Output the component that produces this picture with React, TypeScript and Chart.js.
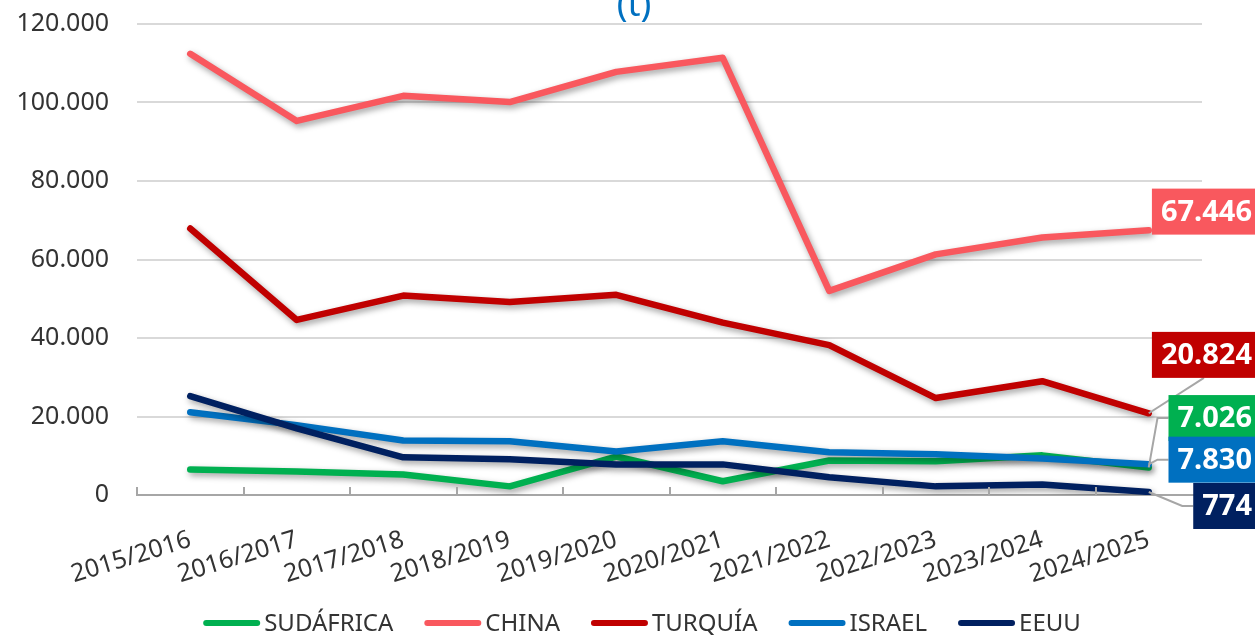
import React, { useEffect, useRef } from "react";
import { Chart, registerables } from "chart.js";

Chart.register(...registerables);

const categories = [
  "2015/2016", "2016/2017", "2017/2018", "2018/2019", "2019/2020",
  "2020/2021", "2021/2022", "2022/2023", "2023/2024", "2024/2025",
];

const sudafrica = [6500, 6000, 5200, 2200, 9800, 3500, 8800, 8600, 10100, 7026];
const china = [112400, 95300, 101700, 100100, 107800, 111400, 52000, 61300, 65600, 67446];
const turquia = [67900, 44600, 50800, 49200, 51000, 43900, 38200, 24700, 29000, 20824];
const israel = [21100, 17800, 13900, 13700, 11100, 13700, 10900, 10400, 9300, 7830];
const eeuu = [25200, 17000, 9600, 9100, 7800, 7800, 4500, 2200, 2700, 774];

const seriesNames = ["SUDÁFRICA", "CHINA", "TURQUÍA", "ISRAEL", "EEUU"];
const seriesColors = ["#00B050", "#F9585E", "#C00000", "#0070C0", "#002060"];
const yTicks = [0, 20000, 40000, 60000, 80000, 100000, 120000];

// label box vertical placement (in y-axis units) for the end-value labels
const labelValuesY = [19600, 72200, 35700, 9000, -2800];
const leaderKinds = ["elbow", "none", "bottom", "elbow", "elbow"];

const FONT = "'Noto Sans', sans-serif";

function fmt(n: number): string {
  return String(n).replace(/\B(?=(\d{3})+(?!\d))/g, ".");
}

const shadowPlugin = {
  id: "shadowPlugin",
  beforeDatasetDraw(chart: any) {
    const ctx = chart.ctx;
    ctx.save();
    ctx.shadowColor = "rgba(0,0,0,0.38)";
    ctx.shadowBlur = 6;
    ctx.shadowOffsetX = 2;
    ctx.shadowOffsetY = 3;
  },
  afterDatasetDraw(chart: any) {
    chart.ctx.restore();
  },
};

const axisTicksPlugin = {
  id: "axisTicksPlugin",
  afterDraw(chart: any) {
    const ctx = chart.ctx;
    const { left, right, bottom } = chart.chartArea;
    const n = categories.length;
    ctx.save();
    ctx.strokeStyle = "#A6A6A6";
    ctx.lineWidth = 2;
    for (let i = 0; i <= n; i++) {
      const x = Math.round(left + ((right - left) * i) / n);
      ctx.beginPath();
      ctx.moveTo(x, bottom - 8);
      ctx.lineTo(x, bottom);
      ctx.stroke();
    }
    ctx.restore();
  },
};

const titlePlugin = {
  id: "titlePlugin",
  afterDraw(chart: any) {
    const ctx = chart.ctx;
    ctx.save();
    ctx.fillStyle = "#0070C0";
    ctx.font = `36px ${FONT}`;
    ctx.textAlign = "center";
    ctx.textBaseline = "alphabetic";
    ctx.fillText("(t)", 634, 16);
    ctx.restore();
  },
};

const endLabelsPlugin = {
  id: "endLabelsPlugin",
  afterDraw(chart: any) {
    const ctx = chart.ctx;
    const yScale = chart.scales.y;
    const W = chart.width;
    const boxH = 46;
    ctx.save();
    ctx.font = `bold 29px ${FONT}`;
    const boxes: any[] = [];
    chart.data.datasets.forEach((ds: any, i: number) => {
      const meta = chart.getDatasetMeta(i);
      const last = meta.data[meta.data.length - 1];
      const value = ds.data[ds.data.length - 1];
      const text = fmt(value);
      const tw = ctx.measureText(text).width;
      const textRight = W - 3;
      const boxLeft = textRight - tw - 9;
      const cy = yScale.getPixelForValue(labelValuesY[i]);
      boxes.push({ i, text, boxLeft, cy, px: last.x, py: last.y, color: ds.borderColor });
    });
    ctx.strokeStyle = "#A6A6A6";
    ctx.lineWidth = 2;
    boxes.forEach((b) => {
      const kind = leaderKinds[b.i];
      if (kind === "none") return;
      ctx.beginPath();
      ctx.moveTo(b.px, b.py);
      if (kind === "bottom") {
        ctx.lineTo(b.boxLeft + 52, b.cy + boxH / 2);
      } else {
        ctx.lineTo(b.boxLeft - 11, b.cy);
        ctx.lineTo(b.boxLeft, b.cy);
      }
      ctx.stroke();
    });
    const order = [1, 2, 0, 3, 4];
    order.forEach((idx) => {
      const b = boxes[idx];
      ctx.fillStyle = b.color;
      ctx.fillRect(b.boxLeft, b.cy - boxH / 2, W - b.boxLeft + 5, boxH);
      ctx.fillStyle = "#FFFFFF";
      ctx.textAlign = "right";
      ctx.textBaseline = "middle";
      ctx.fillText(b.text, W - 3, b.cy + 1);
    });
    ctx.restore();
  },
};

const legendPlugin = {
  id: "customLegend",
  afterDraw(chart: any) {
    const ctx = chart.ctx;
    ctx.save();
    ctx.font = `24px ${FONT}`;
    const lineW = 57;
    const gap = 4;
    const itemGap = 31;
    const widths = chart.data.datasets.map((ds: any) => ctx.measureText(ds.label).width);
    let total = 0;
    widths.forEach((w: number, i: number) => {
      total += lineW + gap + w + (i < widths.length - 1 ? itemGap : 0);
    });
    let x = 642 - total / 2;
    const y = 623;
    chart.data.datasets.forEach((ds: any, i: number) => {
      ctx.strokeStyle = ds.borderColor;
      ctx.lineWidth = 6;
      ctx.lineCap = "round";
      ctx.beginPath();
      ctx.moveTo(x + 3, y);
      ctx.lineTo(x + lineW - 3, y);
      ctx.stroke();
      ctx.fillStyle = "#333333";
      ctx.textAlign = "left";
      ctx.textBaseline = "middle";
      ctx.fillText(ds.label, x + lineW + gap, y + 1);
      x += lineW + gap + widths[i] + itemGap;
    });
    ctx.restore();
  },
};

export default function App() {
  const canvasRef = useRef<HTMLCanvasElement | null>(null);

  useEffect(() => {
    if (!canvasRef.current) return;
    const allData = [sudafrica, china, turquia, israel, eeuu];
    const orders = [4, 3, 2, 1, 0];
    const chart = new Chart(canvasRef.current, {
      type: "line",
      data: {
        labels: categories,
        datasets: allData.map((d, i) => ({
          label: seriesNames[i],
          data: d,
          borderColor: seriesColors[i],
          backgroundColor: seriesColors[i],
          borderWidth: 6.5,
          pointRadius: 0,
          pointHoverRadius: 0,
          tension: 0,
          borderCapStyle: "round" as const,
          borderJoinStyle: "round" as const,
          fill: false,
          order: orders[i],
        })),
      },
      options: {
        responsive: false,
        animation: false,
        events: [],
        layout: { padding: { top: 24, right: 53, left: 0, bottom: 0 } },
        plugins: {
          legend: { display: false },
          title: { display: false },
          tooltip: { enabled: false },
        },
        scales: {
          x: {
            type: "category",
            offset: true,
            grid: { display: false, drawTicks: false },
            border: { display: true, color: "#A6A6A6", width: 2 },
            ticks: {
              autoSkip: false,
              minRotation: 17,
              maxRotation: 17,
              padding: 30,
              color: "#333333",
              font: { family: FONT, size: 25 },
            },
            afterFit(scale: any) {
              scale.height = 142;
            },
          },
          y: {
            min: 0,
            max: 120000,
            afterBuildTicks(scale: any) {
              scale.ticks = yTicks.map((v) => ({ value: v }));
            },
            grid: {
              color: "#D9D9D9",
              lineWidth: 2,
              drawTicks: true,
              tickLength: 28,
              tickColor: "rgba(0,0,0,0)",
            },
            border: { display: false },
            ticks: {
              padding: 0,
              color: "#333333",
              font: { family: FONT, size: 25 },
              callback: (v: any) => fmt(Number(v)),
            },
            afterFit(scale: any) {
              scale.width = 137;
            },
          },
        },
      },
      plugins: [shadowPlugin, axisTicksPlugin, endLabelsPlugin, legendPlugin, titlePlugin],
    });
    return () => chart.destroy();
  }, []);

  return (
    <div style={{ position: "absolute", left: 0, top: 0, width: 1255, height: 637, background: "#FFFFFF" }}>
      <canvas ref={canvasRef} width={1255} height={637} style={{ display: "block", width: 1255, height: 637 }} />
    </div>
  );
}
